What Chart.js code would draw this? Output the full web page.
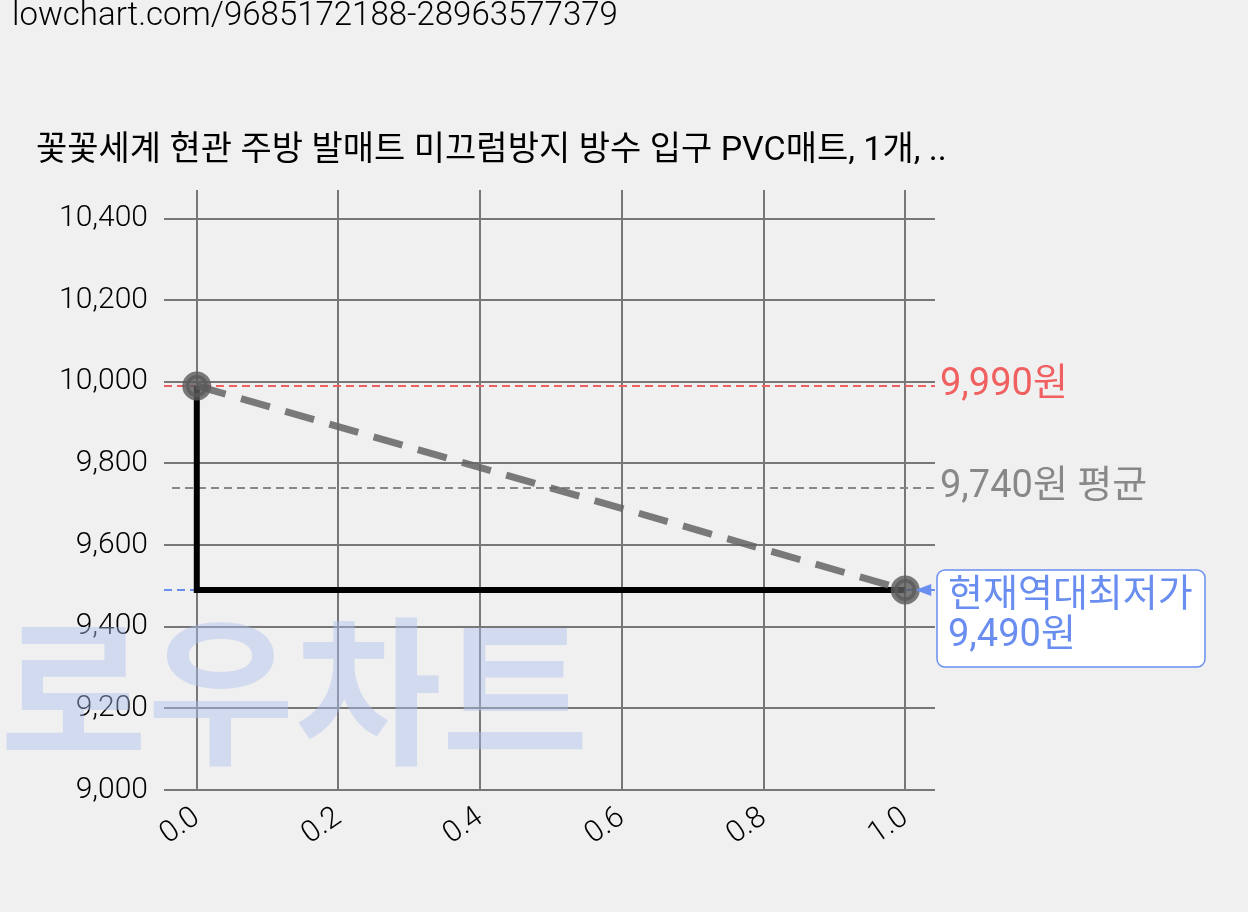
<!DOCTYPE html><html><head><meta charset="utf-8">
<script src="https://cdn.jsdelivr.net/npm/chart.js@4"></script>
<style>body{margin:0;background:#f0f0f0;}#w{position:relative;width:1248px;height:912px;}</style></head><body>
<div id="w"><canvas id="c" width="1248" height="912"></canvas></div>
<script>
const urlText='lowchart.com/9685172188-28963577379';
const title='꽃꽃세계 현관 주방 발매트 미끄럼방지 방수 입구 PVC매트, 1개, ..';
const xs=[0,1];
const prices=[9990,9490];
const maxPrice=9990, avgPrice=9740, minPrice=9490;
const yTicks=[9000,9200,9400,9600,9800,10000,10200,10400];
const xTicks=[0,0.2,0.4,0.6,0.8,1.0];
const F='Roboto, "Noto Sans CJK KR", sans-serif';
const pts=xs.map((x,i)=>({x,y:prices[i]}));
const deco={id:'deco',
beforeDatasetsDraw(ch){const c=ch.ctx,a=ch.chartArea,y=ch.scales.y;
 c.save();c.fillStyle='rgba(170,190,235,0.45)';c.font='bold 160px "Noto Sans CJK KR"';c.textBaseline='alphabetic';c.fillText('로우차트',0,752);
 c.lineWidth=2;c.setLineDash([8,5]);
 [[maxPrice,'#f06060',a.left-8,a.right],[avgPrice,'#888',a.left,a.right],[minPrice,'#6a8df0',a.left-8,a.right]].forEach(([v,col,l,r])=>{c.strokeStyle=col;c.beginPath();c.moveTo(l,y.getPixelForValue(v));c.lineTo(r,y.getPixelForValue(v));c.stroke();});
 c.restore();},
afterDraw(ch){const c=ch.ctx,a=ch.chartArea,y=ch.scales.y,x=ch.scales.x;c.save();
 c.fillStyle='#000';c.font='300 33px '+F;c.textBaseline='top';c.fillText(urlText,12,0);
 c.font='34px '+F;c.fillText(title,36,134);
 c.textBaseline='middle';c.font='38px '+F;
 c.fillStyle='#f06060';c.fillText('9,990원',940,y.getPixelForValue(maxPrice));
 c.fillStyle='#888';c.fillText('9,740원 평균',940,y.getPixelForValue(avgPrice));
 const py=y.getPixelForValue(minPrice);
 c.fillStyle='#fff';c.strokeStyle='#6a8df0';c.lineWidth=1.5;c.beginPath();c.roundRect(937,570,268,97,8);c.fill();c.stroke();
 c.fillStyle='#6a8df0';c.fillText('현재역대최저가',948,596);c.fillText('9,490원',948,636);
 c.beginPath();c.moveTo(x.getPixelForValue(1)+10,py);c.lineTo(x.getPixelForValue(1)+26,py-6);c.lineTo(x.getPixelForValue(1)+26,py+6);c.closePath();c.fill();
 c.restore();}};
new Chart(document.getElementById('c'),{type:'line',
data:{datasets:[
 {data:pts,stepped:'after',borderColor:'#000',borderWidth:6,pointRadius:0,order:2},
 {data:pts,borderColor:'rgba(100,100,100,0.85)',borderWidth:7,borderDash:[30,16],pointRadius:11,pointBackgroundColor:'rgba(90,90,90,0.8)',pointBorderColor:'rgba(90,90,90,0.8)',order:1}]},
options:{responsive:false,animation:false,layout:{padding:{left:52,right:313,top:190,bottom:0}},
plugins:{legend:{display:false},tooltip:{enabled:false}},
scales:{
 x:{type:'linear',min:-0.035,max:1.042,afterBuildTicks:s=>{s.ticks=xTicks.map(v=>({value:v}));},afterFit:s=>{s.height=122;},
  grid:{color:'#777',lineWidth:2,drawTicks:false},border:{display:false},
  ticks:{maxRotation:35,minRotation:35,padding:10,color:'#000',font:{size:30,family:F,weight:300},callback:v=>Number(v).toFixed(1)}},
 y:{min:9000,max:10470,afterBuildTicks:s=>{s.ticks=yTicks.map(v=>({value:v}));},afterFit:s=>{s.width=120;},
  grid:{color:'#777',lineWidth:2,drawTicks:true,tickLength:8},border:{display:false},
  ticks:{color:'#000',padding:16,font:{size:30,family:F,weight:300},callback:v=>v.toLocaleString('en-US')}}}},
plugins:[deco]});
</script></body></html>
